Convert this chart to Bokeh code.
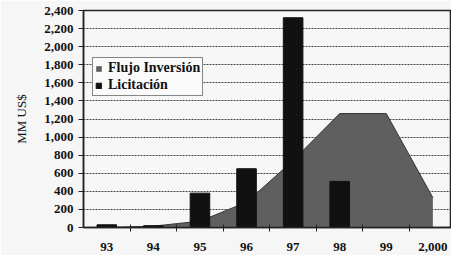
from bokeh.plotting import figure
from bokeh.models import Range1d, FixedTicker, NumeralTickFormatter, Legend, LegendItem, ColumnDataSource
from bokeh.embed import file_html
from bokeh.resources import INLINE

categories = ["93", "94", "95", "96", "97", "98", "99", "2,000"]
flujo_inversion = [0, 15, 70, 280, 740, 1260, 1260, 330]
licitacion = [30, 20, 380, 650, 2320, 510, 0, 0]

xs = list(range(len(categories)))
src = ColumnDataSource(dict(x=xs, flujo=flujo_inversion, lic=licitacion, zero=[0] * len(xs)))

SERIF = "Liberation Serif"
BG = "#f6f6f6"

p = figure(width=451, height=255, output_backend="svg", toolbar_location=None,
           x_range=Range1d(-0.5, 7.4), y_range=Range1d(0, 2400),
           min_border_left=83, min_border_right=0, min_border_top=10, min_border_bottom=28,
           background_fill_color=BG, border_fill_color=BG)

area = p.varea(x="x", y1="zero", y2="flujo", source=src, fill_color="#5f5f5f")
p.line(x="x", y="flujo", source=src, line_color="#333333", line_width=1)
bars = p.vbar(x="x", top="lic", width=0.42, source=src, fill_color="#111111", line_color="#111111")

# axes
p.xaxis.ticker = FixedTicker(ticks=xs, minor_ticks=[i + 0.5 for i in xs[:-1]])
p.xaxis.major_label_overrides = {i: c for i, c in enumerate(categories)}
p.xaxis.major_tick_in = 0
p.xaxis.major_tick_out = 0
p.xaxis.minor_tick_in = 3
p.xaxis.minor_tick_out = 4
p.xaxis.minor_tick_line_color = "#222222"
p.xaxis.axis_line_color = "#222222"
p.xaxis.axis_line_width = 1.5
p.xaxis.major_label_text_font = SERIF
p.xaxis.major_label_text_font_style = "bold"
p.xaxis.major_label_text_font_size = "13px"
p.xaxis.major_label_text_color = "#111111"
p.xaxis.major_label_standoff = 11

p.yaxis.ticker = FixedTicker(ticks=list(range(0, 2401, 200)))
p.yaxis.formatter = NumeralTickFormatter(format="0,0")
p.yaxis.major_tick_out = 5
p.yaxis.major_tick_in = 0
p.yaxis.minor_tick_line_color = None
p.yaxis.axis_line_color = "#222222"
p.yaxis.axis_line_width = 1.5
p.yaxis.major_tick_line_color = "#222222"
p.yaxis.major_label_text_font = SERIF
p.yaxis.major_label_text_font_style = "bold"
p.yaxis.major_label_text_font_size = "13px"
p.yaxis.major_label_text_color = "#111111"
p.yaxis.major_label_standoff = 5
p.yaxis.axis_label = "MM US$"
p.yaxis.axis_label_text_font = SERIF
p.yaxis.axis_label_text_font_style = "normal"
p.yaxis.axis_label_text_font_size = "13px"
p.yaxis.axis_label_text_color = "#111111"
p.yaxis.axis_label_standoff = 12

p.xgrid.grid_line_color = None
p.ygrid.ticker = FixedTicker(ticks=list(range(200, 2401, 200)))
p.ygrid.grid_line_color = "#444444"
p.ygrid.grid_line_dash = "2 1"
p.ygrid.grid_line_width = 1

p.outline_line_color = "#222222"
p.outline_line_width = 1.5

legend = Legend(items=[LegendItem(label="Flujo Inversión", renderers=[area]),
                       LegendItem(label="Licitación", renderers=[bars])],
                location=(9, 131), orientation="vertical")
legend.label_text_font = SERIF
legend.label_text_font_style = "bold"
legend.label_text_font_size = "14px"
legend.label_text_color = "#111111"
legend.glyph_width = 7
legend.glyph_height = 7
legend.label_height = 14
legend.label_standoff = 6
legend.spacing = 1
legend.padding = 2
legend.margin = 0
legend.border_line_color = "#111111"
legend.border_line_width = 1.5
legend.background_fill_color = "#fafafa"
legend.background_fill_alpha = 1.0
p.add_layout(legend, "center")

open("out.html", "w").write(file_html(p, INLINE))
